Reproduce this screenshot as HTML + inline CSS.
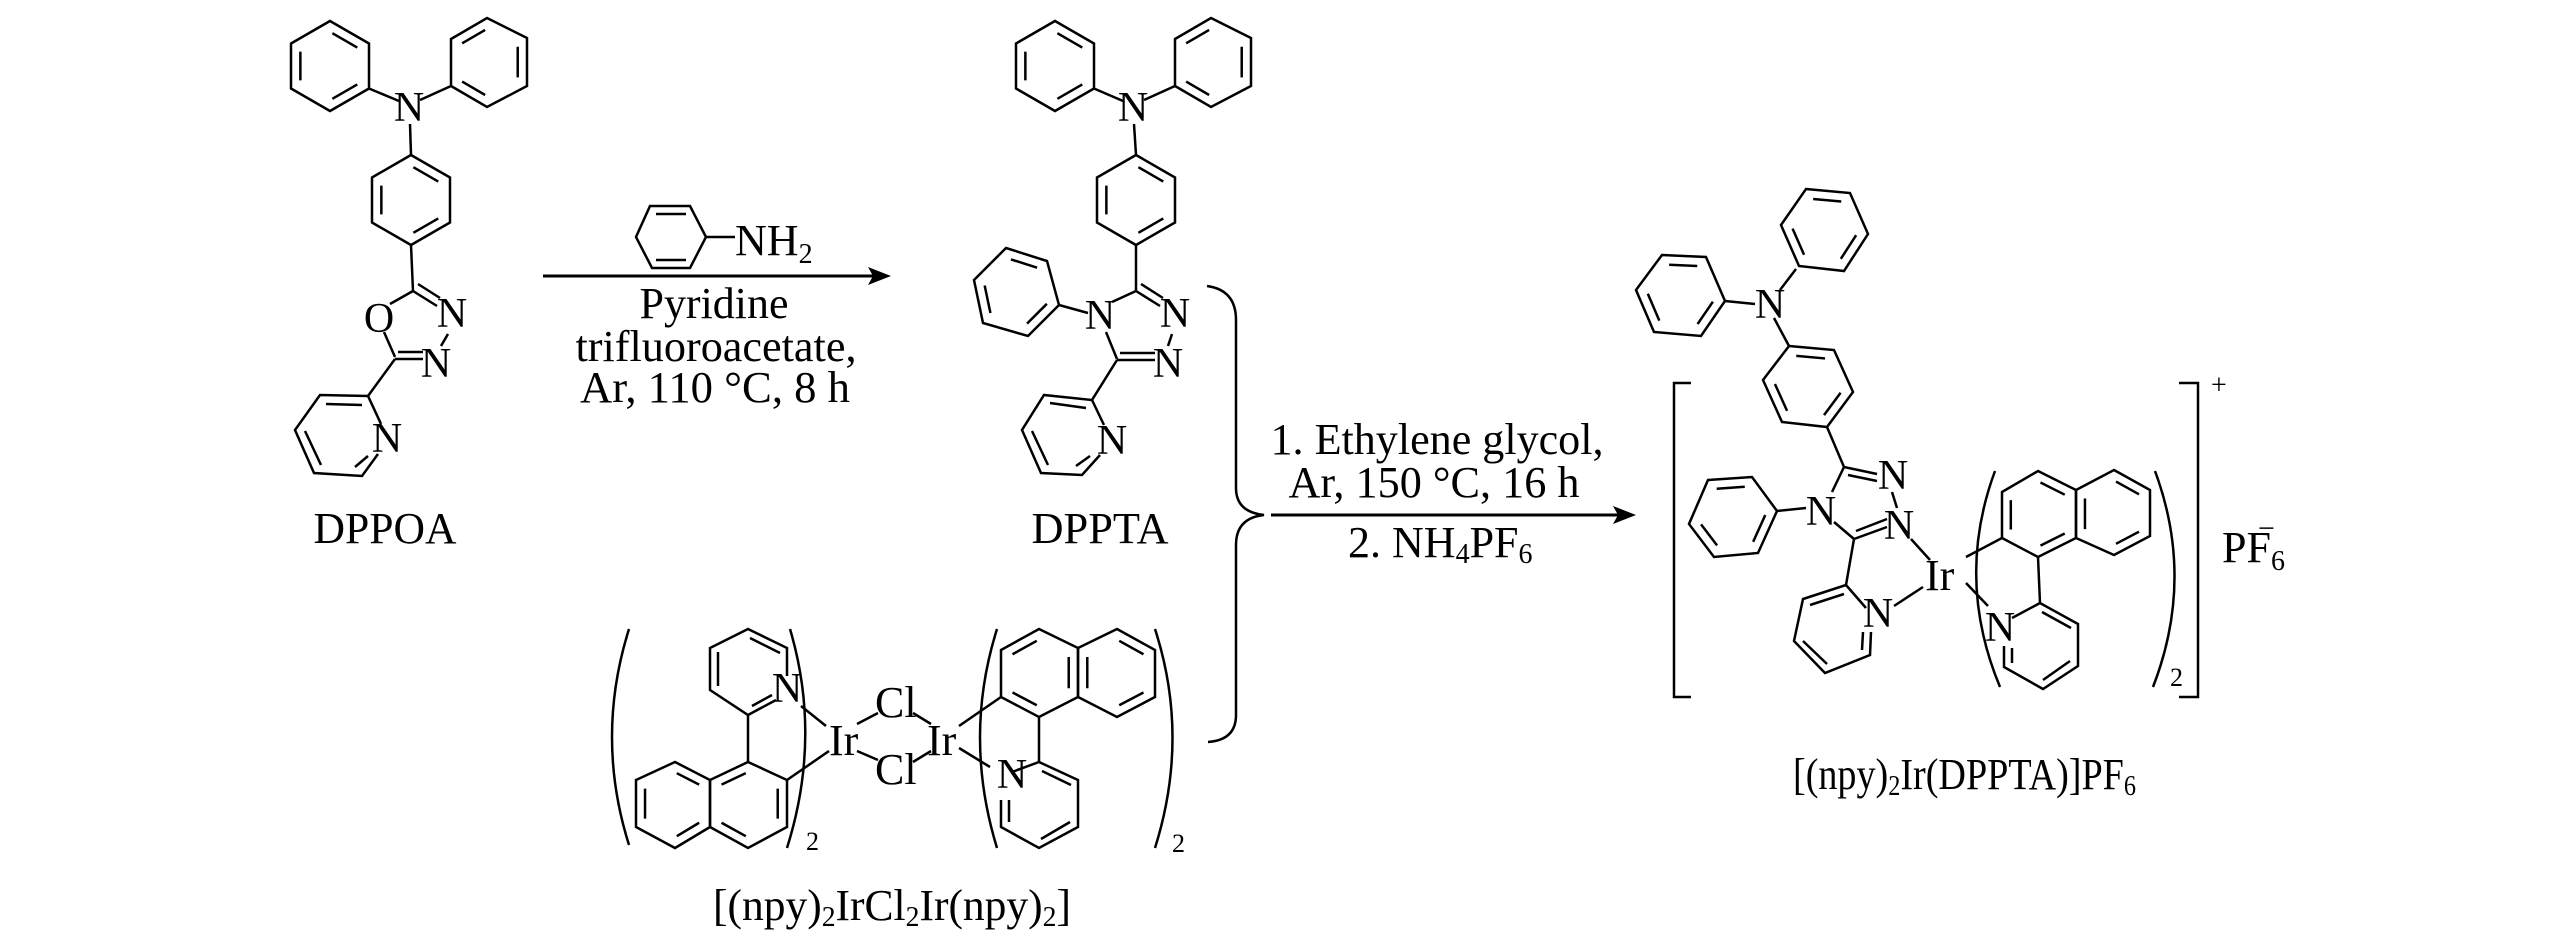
<!DOCTYPE html>
<html><head><meta charset="utf-8"><style>
html,body{margin:0;padding:0;background:#fff;}
svg{display:block;}
text{font-family:"Liberation Serif",serif;fill:#000;}
</style></head><body>
<svg id="s" width="2567" height="945" viewBox="0 0 2567 945" xmlns="http://www.w3.org/2000/svg">
<g id="g" fill="none" stroke="#000" stroke-width="2.5" stroke-linejoin="miter">
<!-- DPPOA -->
<polygon id="r1" points="330,21 369,43.5 369,88.5 330,111 291,88.5 291,43.5"/>
<polygon id="r2" points="487,18 527,38 527,86 487,107 451,86 451,39"/>
<line x1="369" y1="88.5" x2="399" y2="101"/>
<line x1="420" y1="100" x2="451" y2="86"/>
<line x1="410" y1="124" x2="411" y2="155"/>
<polygon id="r3" points="411,155 450,177.5 450,222.5 411,245 372,222.5 372,177.5"/>
<line x1="411" y1="245" x2="413" y2="291"/>
<line x1="413" y1="291" x2="390" y2="304"/>
<line x1="413" y1="291" x2="437" y2="306"/>
<line x1="418" y1="284" x2="440" y2="298"/>
<line x1="448" y1="334" x2="441" y2="346"/>
<line x1="395" y1="359" x2="423" y2="359"/>
<line x1="398" y1="352" x2="423" y2="352"/>
<line x1="384" y1="332" x2="395" y2="357"/>
<line x1="395" y1="359" x2="368" y2="396"/>
<polyline points="381,424 368,396 320,395 295,430 314,473 362,476 378,454"/>
<line x1="326" y1="404" x2="362" y2="405"/>
<line x1="305" y1="431" x2="321" y2="465"/>
<line x1="355" y1="467" x2="368" y2="456"/>
<!-- arrow 1 -->
<line x1="543" y1="276" x2="878" y2="276" stroke-width="3"/>
<polygon points="650,206 690,206 706,237 690,268 652,268 636,237"/>
<line x1="656" y1="214" x2="686" y2="214"/>
<line x1="656" y1="260" x2="686" y2="260"/>
<line x1="706" y1="237" x2="735" y2="237"/>
<!-- DPPTA -->
<polygon id="r4" points="1055,21 1094,43.5 1094,88.5 1055,111 1016,88.5 1016,43.5"/>
<polygon id="r5" points="1211,18 1251,38 1251,86 1211,107 1175,86 1175,39"/>
<line x1="1094" y1="88.5" x2="1123" y2="101"/>
<line x1="1144" y1="100" x2="1175" y2="86"/>
<line x1="1134" y1="124" x2="1136" y2="155"/>
<polygon id="r6" points="1136,155 1175,177.5 1175,222.5 1136,245 1097,222.5 1097,177.5"/>
<line x1="1136" y1="245" x2="1136" y2="291"/>
<line x1="1136" y1="291" x2="1112" y2="302"/>
<line x1="1136" y1="291" x2="1160" y2="306"/>
<line x1="1141" y1="284" x2="1163" y2="298"/>
<line x1="1172" y1="334" x2="1168" y2="346"/>
<line x1="1117" y1="360" x2="1155" y2="360"/>
<line x1="1120" y1="353" x2="1155" y2="353"/>
<line x1="1117" y1="359" x2="1106" y2="332"/>
<polygon id="r7" points="1006,248 1047,261 1059,305 1028,336 983,323 974,280"/>
<line x1="1059" y1="305" x2="1088" y2="313"/>
<line x1="1117" y1="360" x2="1092" y2="400"/>
<polyline points="1104,425 1092,400 1044,395 1022,430 1041,473 1082,475 1100,455"/>
<line x1="1050" y1="403" x2="1086" y2="408"/>
<line x1="1032" y1="431" x2="1048" y2="465"/>
<line x1="1076" y1="466" x2="1090" y2="456"/>
<!-- brace -->
<path d="M1207,286 Q1236,290 1236,320 L1236,488 Q1236,512 1264,515 Q1236,518 1236,545 L1236,715 Q1236,740 1208,742"/>
<!-- arrow 2 -->
<line x1="1271" y1="515" x2="1624" y2="515" stroke-width="3"/>
<!-- dimer -->
<path d="M629,629 Q595,737 629,845"/>
<path d="M790,629 Q822,737 787,848"/>
<path d="M997,629 Q963,737 997,848"/>
<path d="M1155,629 Q1190,737 1155,848"/>
<polyline points="787,676 787,648 748,629 710,648 710,690 748,715 776,700"/>
<line x1="750" y1="638" x2="780" y2="653"/>
<line x1="718" y1="652" x2="718" y2="686"/>
<line x1="752" y1="706" x2="772" y2="695"/>
<line x1="748" y1="715" x2="748" y2="762"/>
<polygon id="r8" points="748,762 787,780 787,827 748,848 710,827 710,780"/>
<polygon id="r9" points="675,762 710,780 710,827 675,848 636,827 636,780"/>
<line x1="787" y1="780" x2="829" y2="751"/>
<line x1="801" y1="706" x2="826" y2="726"/>
<line x1="857" y1="724" x2="878" y2="713"/>
<line x1="857" y1="751" x2="878" y2="760"/>
<line x1="913" y1="713" x2="931" y2="724"/>
<line x1="913" y1="762" x2="931" y2="751"/>
<polygon id="r10" points="1039,629 1078,648 1078,697 1039,717 1001,697 1001,650"/>
<polygon id="r11" points="1117,629 1155,650 1155,697 1117,717 1078,697 1078,648"/>
<line x1="1039" y1="717" x2="1039" y2="762"/>
<polyline points="1012,772 1039,762 1078,780 1078,827 1039,848 1001,827 1001,800"/>
<line x1="1042" y1="771" x2="1071" y2="785"/>
<line x1="1070" y1="822" x2="1041" y2="839"/>
<line x1="1009" y1="800" x2="1009" y2="822"/>
<line x1="959" y1="726" x2="1001" y2="697"/>
<line x1="959" y1="748" x2="990" y2="767"/>
<!-- product -->
<polygon id="r12" points="1806,189 1850,193 1868,234 1844,271 1799,266 1781,225"/>
<polygon id="r13" points="1662,255 1706,257 1725,301 1701,336 1654,332 1636,290"/>
<line x1="1725" y1="301" x2="1755" y2="304"/>
<line x1="1796" y1="269" x2="1780" y2="290"/>
<line x1="1774" y1="318" x2="1789" y2="346"/>
<polygon id="r14" points="1789,346 1834,350 1853,392 1827,427 1782,422 1763,380"/>
<line x1="1827" y1="427" x2="1844" y2="467"/>
<line x1="1844" y1="467" x2="1832" y2="492"/>
<line x1="1844" y1="467" x2="1877" y2="474"/>
<line x1="1848" y1="475" x2="1877" y2="481"/>
<line x1="1892" y1="492" x2="1897" y2="508"/>
<line x1="1887" y1="527" x2="1854" y2="539"/>
<line x1="1887" y1="519" x2="1856" y2="531"/>
<line x1="1834" y1="522" x2="1854" y2="539"/>
<polygon id="r15" points="1708,480 1752,477 1777,511 1758,553 1714,557 1689,524"/>
<line x1="1777" y1="511" x2="1806" y2="508"/>
<line x1="1854" y1="539" x2="1846" y2="585"/>
<polyline points="1866,608 1846,585 1803,599 1794,641 1825,673 1870,655 1871,632"/>
<line x1="1844" y1="594" x2="1810" y2="605"/>
<line x1="1803" y1="641" x2="1827" y2="664"/>
<line x1="1862" y1="650" x2="1863" y2="632"/>
<line x1="1911" y1="539" x2="1930" y2="560"/>
<line x1="1894" y1="606" x2="1923" y2="587"/>
<line x1="1966" y1="557" x2="2002" y2="538"/>
<line x1="1966" y1="583" x2="1988" y2="606"/>
<polygon id="r16" points="2038,471 2076,490 2076,538 2038,557 2002,538 2002,492"/>
<polygon id="r17" points="2114,470 2150,490 2150,536 2114,555 2076,538 2076,490"/>
<line x1="2038" y1="557" x2="2040" y2="603"/>
<polyline points="2012,618 2040,603 2078,624 2078,666 2043,689 2004,667 2004,646"/>
<line x1="2042" y1="612" x2="2071" y2="628"/>
<line x1="2070" y1="661" x2="2043" y2="680"/>
<line x1="2012" y1="648" x2="2012" y2="663"/>
<path d="M1995,471 Q1955,579 2000,687"/>
<path d="M2155,471 Q2195,579 2153,687"/>
<path d="M1691,383 H1674 V697 H1691"/>
<path d="M2179,383 H2198 V697 H2179"/>
</g>
<g fill="#000">
<polygon points="891,276 868,267 873,276 868,285"/>
<polygon points="1636,515 1613,506 1618,515 1613,524"/>
</g>
<g font-size="42" text-anchor="middle">
<text x="409" y="121">N</text>
<text x="452" y="327">N</text>
<text x="379" y="332">O</text>
<text x="436" y="377">N</text>
<text x="387" y="452">N</text>
<text x="1133" y="121">N</text>
<text x="1175" y="327">N</text>
<text x="1168" y="377">N</text>
<text x="1100" y="329">N</text>
<text x="1112" y="454">N</text>
<text x="1770" y="318">N</text>
<text x="1893" y="489">N</text>
<text x="1899" y="539">N</text>
<text x="1821" y="525">N</text>
<text x="1878" y="627">N</text>
<text x="2000" y="641">N</text>
<text x="787" y="702">N</text>
<text x="1012" y="788">N</text>
</g>
<g font-size="44">
<text x="385" y="543" text-anchor="middle" textLength="143" lengthAdjust="spacingAndGlyphs">DPPOA</text>
<text x="1100" y="543" text-anchor="middle" textLength="137" lengthAdjust="spacingAndGlyphs">DPPTA</text>
<text x="735" y="255">NH<tspan font-size="28" dy="8">2</tspan></text>
<text x="714" y="318" text-anchor="middle" textLength="149" lengthAdjust="spacingAndGlyphs">Pyridine</text>
<text x="716" y="361" text-anchor="middle" textLength="281" lengthAdjust="spacingAndGlyphs">trifluoroacetate,</text>
<text x="715" y="402" text-anchor="middle" textLength="270" lengthAdjust="spacingAndGlyphs">Ar, 110 °C, 8 h</text>
<text x="1437" y="454" text-anchor="middle" textLength="333" lengthAdjust="spacingAndGlyphs">1. Ethylene glycol,</text>
<text x="1434" y="497" text-anchor="middle" textLength="291" lengthAdjust="spacingAndGlyphs">Ar, 150 °C, 16 h</text>
<text x="1348" y="557">2. NH<tspan font-size="28" dy="6">4</tspan><tspan dy="-6">PF</tspan><tspan font-size="28" dy="6">6</tspan></text>
<text x="829" y="755">Ir</text>
<text x="927" y="755">Ir</text>
<text x="875" y="717">Cl</text>
<text x="875" y="784">Cl</text>
<text x="1925" y="590">Ir</text>
<text x="2222" y="562">PF<tspan font-size="28" dy="8">6</tspan></text>
<text x="2258" y="538" font-size="30">−</text>
<text x="2211" y="394" font-size="28">+</text>
<text x="806" y="850" font-size="26">2</text>
<text x="1172" y="852" font-size="26">2</text>
<text x="2170" y="686" font-size="26">2</text>
<text x="713" y="920" textLength="358" lengthAdjust="spacingAndGlyphs">[(npy)<tspan font-size="28" dy="6">2</tspan><tspan dy="-6">IrCl</tspan><tspan font-size="28" dy="6">2</tspan><tspan dy="-6">Ir(npy)</tspan><tspan font-size="28" dy="6">2</tspan><tspan dy="-6">]</tspan></text>
<text x="1793" y="789" textLength="343" lengthAdjust="spacingAndGlyphs">[(npy)<tspan font-size="28" dy="6">2</tspan><tspan dy="-6">Ir(DPPTA)]PF</tspan><tspan font-size="28" dy="6">6</tspan></text>
</g>
</svg>
<script>
(function(){
var spec=[["r1",0],["r2",1],["r3",0],["r4",0],["r5",1],["r6",0],["r7",0],["r8",1],["r9",0],["r10",1],["r11",0],["r12",0],["r13",0],["r14",0],["r15",0],["r16",0],["r17",0]];
var g=document.getElementById("g"),NS="http://www.w3.org/2000/svg";
spec.forEach(function(s){
 var el=document.getElementById(s[0]);if(!el)return;
 var p=el.getAttribute("points").trim().split(/\s+/).map(function(t){return t.split(",").map(Number);});
 var cx=0,cy=0;p.forEach(function(q){cx+=q[0];cy+=q[1];});cx/=p.length;cy/=p.length;
 for(var i=s[1];i<p.length;i+=2){
  var a=p[i],b=p[(i+1)%p.length],f=0.76;
  var ax=cx+(a[0]-cx)*f,ay=cy+(a[1]-cy)*f,bx=cx+(b[0]-cx)*f,by=cy+(b[1]-cy)*f;
  var l=document.createElementNS(NS,"line");
  l.setAttribute("x1",ax+(bx-ax)*0.08);l.setAttribute("y1",ay+(by-ay)*0.08);
  l.setAttribute("x2",bx-(bx-ax)*0.08);l.setAttribute("y2",by-(by-ay)*0.08);
  g.appendChild(l);
 }
});
})();
</script>
</body></html>
